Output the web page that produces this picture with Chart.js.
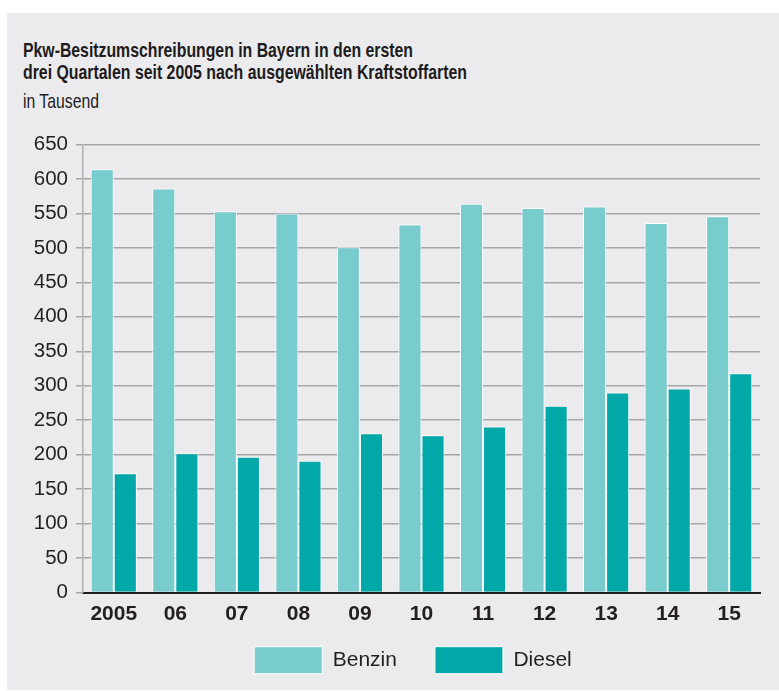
<!DOCTYPE html>
<html>
<head>
<meta charset="utf-8">
<script src="https://cdn.jsdelivr.net/npm/chart.js@4.4.0/dist/chart.umd.min.js"></script>
<style>
html,body{margin:0;padding:0;background:#ffffff;width:779px;height:691px;overflow:hidden;}
#panel{position:absolute;left:7px;top:13px;width:772px;height:677px;background:#EBEBED;}
.t{position:absolute;left:23px;transform-origin:0 0;white-space:nowrap;color:#1E1B1C;
   font-family:"Liberation Sans",Arial,Helvetica,sans-serif;font-size:21px;line-height:22px;}
.b{font-weight:bold;}
#c{position:absolute;left:0;top:0;}
</style>
</head>
<body>
<div id="panel"></div>
<div class="t b" id="t1" data-w="390" style="top:38.5px">Pkw-Besitzumschreibungen in Bayern in den ersten</div>
<div class="t b" id="t2" data-w="444" style="top:60.5px">drei Quartalen seit 2005 nach ausgewählten Kraftstoffarten</div>
<div class="t" id="t3" data-w="76" style="top:89.5px">in Tausend</div>
<canvas id="c" width="779" height="691"></canvas>
<script>
// ---- data ----
const categories = ['2005', '06', '07', '08', '09', '10', '11', '12', '13', '14', '15'];
const benzin = [614, 586, 553, 550, 501, 534, 564, 558, 560, 536, 546];
const diesel = [173, 202, 197, 191, 231, 228, 241, 271, 290, 296, 318];
const seriesNames = ['Benzin', 'Diesel'];
const yMin = 0, yMax = 650, yStep = 50;

// ---- title condensing (style only) ----
document.querySelectorAll('.t').forEach(el => {
  const w = el.getBoundingClientRect().width;
  const target = parseFloat(el.dataset.w);
  el.style.transform = 'scaleX(' + (target / w) + ')';
});

const FONT = '"Liberation Sans", Arial, Helvetica, sans-serif';
const TEXT = '#231F20';
const GRID = '#A6A6A8';

// place the legend row below the axis labels, centred like the reference
const legendPlacer = {
  id: 'legendPlacer',
  afterLayout(chart) {
    const lg = chart.legend;
    if (!lg) return;
    lg.left = 66; lg.right = 760;
    lg.top = 608.7; lg.bottom = lg.top + 75;
  }
};

new Chart(document.getElementById('c'), {
  type: 'bar',
  data: {
    labels: categories,
    datasets: [
      { label: seriesNames[0], data: benzin, backgroundColor: '#79CCCE', borderColor: '#FFFFFF', borderWidth: 1 },
      { label: seriesNames[1], data: diesel, backgroundColor: '#00A8A8', borderColor: '#FFFFFF', borderWidth: 1 }
    ]
  },
  plugins: [legendPlacer],
  options: {
    responsive: false,
    animation: false,
    devicePixelRatio: 1,
    layout: { padding: { left: 5, right: 19, top: 144.5, bottom: 38.5 } },
    datasets: { bar: { categoryPercentage: 0.75, barPercentage: 1 } },
    plugins: {
      legend: {
        position: 'bottom',
        maxHeight: 20,
        labels: { boxWidth: 68, boxHeight: 27, padding: 38, color: TEXT, font: { family: FONT, size: 21 } }
      },
      tooltip: { enabled: false }
    },
    scales: {
      x: {
        z: 1,
        grid: { display: false, drawTicks: false },
        border: { display: true, color: TEXT, width: 2 },
        ticks: { color: TEXT, font: { family: FONT, size: 21, weight: 'bold' }, padding: 9, maxRotation: 0, autoSkip: false },
        afterFit: s => { s.height = 40; }
      },
      y: {
        min: yMin, max: yMax,
        ticks: { stepSize: yStep, color: TEXT, font: { family: FONT, size: 20.5 }, padding: 8 },
        grid: {
          color: c => (c.tick && c.tick.value === 0) ? 'rgba(0,0,0,0)' : GRID,
          tickColor: GRID, lineWidth: 1.5, tickLength: 7, drawTicks: true
        },
        border: { color: '#B0B0B2', width: 1.5 },
        afterFit: s => { s.width = 78; }
      }
    }
  }
});
</script>
</body>
</html>
